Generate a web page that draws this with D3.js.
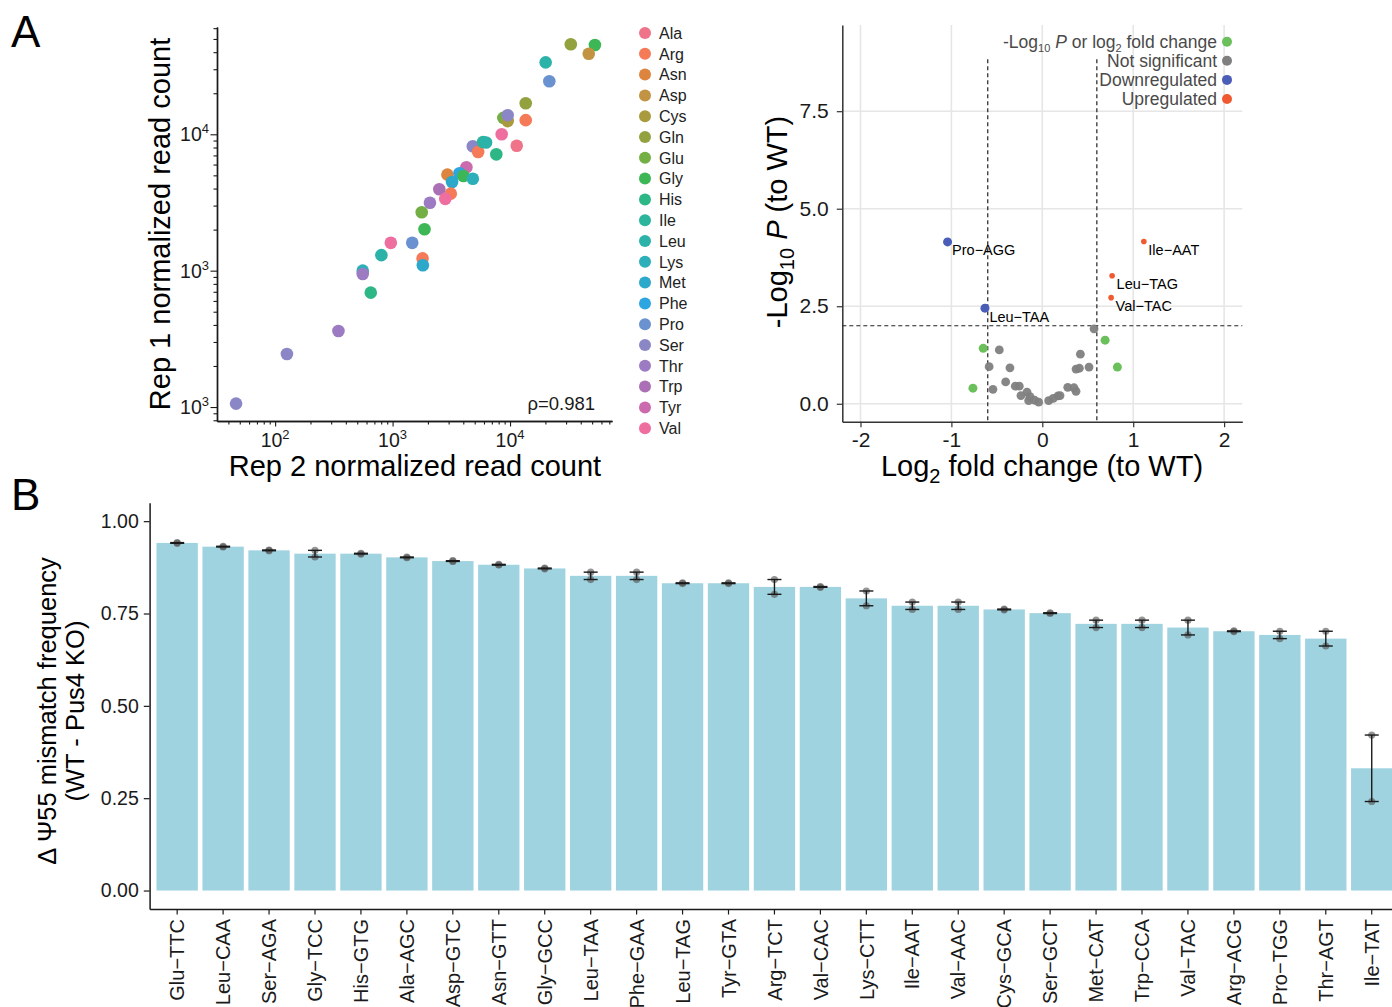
<!DOCTYPE html>
<html>
<head>
<meta charset="utf-8">
<script src="https://cdn.jsdelivr.net/npm/d3@7"></script>
<style>
  body { margin: 0; background: #fff; }
  svg { display: block; font-family: "Liberation Sans", Arial, Helvetica, sans-serif; }
</style>
</head>
<body>
<svg id="fig" width="1392" height="1007"></svg>
<script>
// ---------------- Panel A, left: replicate read counts per tRNA ----------------
const aminoAcids = ["Ala","Arg","Asn","Asp","Cys","Gln","Glu","Gly","His","Ile",
                    "Leu","Lys","Met","Phe","Pro","Ser","Thr","Trp","Tyr","Val"];
const aaColors = ["#EF7489","#F47A58","#DD843E","#C19342","#A99B3D","#93A23F","#73AF45","#3DB755","#2DB786","#2AB59C",
                  "#2BB2A9","#2CAFB8","#2BA8CA","#2CA5E0","#6A91D0","#8B86C5","#9C7BC2","#AA6FB4","#CB6BAE","#EE6EA0"];

// one entry per tRNA isodecoder
const pointAA   = ["Gln","Gly","Asp","Leu","Pro","Gln","Glu","Cys","Ser","Arg",
                   "Val","Ala","Ser","Arg","Ile","Leu","His","Tyr","Asn","Phe",
                   "Gly","Lys","Met","Arg","Trp","Val","Thr","Glu","Gly","Val",
                   "Pro","Leu","Arg","Met","Lys","Thr","His","Thr","Ser","Ser"];
const rep2Count = [32900,52800,46800,20100,21600,13600,8770,9550,9550,13600,
                   8490,11400,4820,5350,5900,6250,7640,4250,2930,3710,
                   4010,4820,3210,3130,2500,2810,2080,1770,1870,966,
                   1470,803,1800,1810,557,557,652,346,126,46.5];
const rep1Count = [45700,45200,39000,33700,24500,16900,13200,12500,13800,12700,
                   10000,8240,8170,7410,8790,8700,7130,5730,5060,5180,
                   4940,4720,4470,3670,3950,3360,3150,2680,2010,1600,
                   1600,1300,1230,1095,1000,946,690,361,245,106];
const scatterXTicks = [100, 1000, 10000];
const scatterXTickExp = ["2", "3", "4"];
const scatterYTicks = [100, 1000, 10000];
const scatterYTickExp = ["3", "3", "4"];
const spearmanText = "ρ=0.981";

// ---------------- Panel A, right: volcano plot ----------------
const volcName = ["Pro−AGG","Leu−TAA","Ile−AAT","Leu−TAG","Val−TAC",
                  "","","","",
                  "","","","","","","","","","","","","","","","","","","","","","","","","",""];
const volcFC = [-1.042,-0.631,1.117,0.768,0.757,
                -0.650,-0.763,0.691,0.826,
                0.569,-0.473,-0.585,-0.356,0.419,0.371,0.408,0.514,-0.403,-0.543,
                -0.297,-0.253,-0.168,-0.235,-0.135,-0.150,-0.084,-0.040,0.070,0.121,
                0.173,0.195,0.280,0.349,0.371];
const volcP  = [4.15,2.45,4.16,3.28,2.72,
                1.42,0.40,1.63,0.94,
                1.92,1.38,0.95,0.92,1.27,0.89,0.91,0.94,0.56,0.37,
                0.45,0.45,0.30,0.21,0.18,0.08,0.09,0.04,0.08,0.14,
                0.20,0.21,0.42,0.41,0.32];
const fcCutoff = 0.6;
const pCutoff = 2;
const volcColors = {"P or FC":"#6CC05C","NS":"#7F7F7F","Down":"#4A5EB8","Up":"#EF5A30"};
const volcRadius = {"P or FC":4.5,"NS":4.4,"Down":4.5,"Up":2.8};

// ---------------- Panel B: Ψ55 mismatch difference ----------------
const trnaLabels = ["Glu−TTC","Leu−CAA","Ser−AGA","Gly−TCC","His−GTG","Ala−AGC","Asp−GTC","Asn−GTT","Gly−GCC",
                    "Leu−TAA","Phe−GAA","Leu−TAG","Tyr−GTA","Arg−TCT","Val−CAC","Lys−CTT","Ile−AAT","Val−AAC",
                    "Cys−GCA","Ser−GCT","Met−CAT","Trp−CCA","Val−TAC","Arg−ACG","Pro−TGG","Thr−AGT","Ile−TAT"];
const deltaRep1 = [0.942,0.932,0.922,0.921,0.913,0.903,0.893,0.883,0.873,
                   0.862,0.862,0.833,0.833,0.842,0.823,0.811,0.781,0.781,
                   0.762,0.752,0.732,0.732,0.732,0.703,0.702,0.702,0.421];
const deltaRep2 = [0.940,0.930,0.920,0.903,0.911,0.901,0.891,0.881,0.871,
                   0.842,0.842,0.831,0.831,0.802,0.821,0.771,0.761,0.761,
                   0.760,0.750,0.712,0.712,0.692,0.701,0.682,0.662,0.241];
const barYTicks = [0, 0.25, 0.5, 0.75, 1.0];

// ======================================================================
const svg = d3.select("#fig");
svg.append("rect").attr("width", 1392).attr("height", 1007).attr("fill", "#fff");
const ink = "#1a1a1a";

svg.append("text").attr("x", 11).attr("y", 47).attr("font-size", 44).attr("fill", "#000").text("A");
svg.append("text").attr("x", 11).attr("y", 510).attr("font-size", 44).attr("fill", "#000").text("B");

// ---------- scatter ----------
(function drawScatter() {
  const g = svg.append("g");
  const x = d3.scaleLog().domain([32, 73800]).range([217, 612]);
  const y = d3.scaleLog().domain([79, 61200]).range([421, 27]);

  const minorX = x.ticks().filter(v => !scatterXTicks.includes(v));
  const minorY = y.ticks().filter(v => !scatterYTicks.includes(v));

  const styleAxis = sel => {
    sel.selectAll("path.domain").attr("stroke", ink).attr("stroke-width", 1.4);
    sel.selectAll(".tick line").attr("stroke", ink).attr("stroke-width", 1.1);
  };

  g.append("g").attr("transform", "translate(0,421)")
    .call(d3.axisBottom(x).tickValues(minorX).tickSize(3.5).tickSizeOuter(0).tickFormat(""))
    .call(styleAxis);
  g.append("g").attr("transform", "translate(0,421)")
    .call(d3.axisBottom(x).tickValues(scatterXTicks).tickSize(5.5).tickSizeOuter(0).tickFormat(""))
    .call(styleAxis);
  g.append("g").attr("transform", "translate(217,0)")
    .call(d3.axisLeft(y).tickValues(minorY).tickSize(3.5).tickSizeOuter(0).tickFormat(""))
    .call(styleAxis);
  g.append("g").attr("transform", "translate(217,0)")
    .call(d3.axisLeft(y).tickValues(scatterYTicks).tickSize(6.5).tickSizeOuter(0).tickFormat(""))
    .call(styleAxis);

  // power-of-ten labels
  scatterXTicks.forEach((v, i) => {
    const t = g.append("text").attr("x", x(v)).attr("y", 447).attr("text-anchor", "middle")
      .attr("font-size", 19.5).attr("fill", ink);
    t.append("tspan").text("10");
    t.append("tspan").attr("dy", -8).attr("font-size", 13).text(scatterXTickExp[i]);
  });
  scatterYTicks.forEach((v, i) => {
    const t = g.append("text").attr("x", 209).attr("y", y(v) + 7).attr("text-anchor", "end")
      .attr("font-size", 19.5).attr("fill", ink);
    t.append("tspan").text("10");
    t.append("tspan").attr("dy", -8).attr("font-size", 13).text(scatterYTickExp[i]);
  });

  g.selectAll("circle.pt").data(pointAA).join("circle")
    .attr("class", "pt")
    .attr("cx", (d, i) => x(rep2Count[i]))
    .attr("cy", (d, i) => y(rep1Count[i]))
    .attr("r", 6.3)
    .attr("fill", d => aaColors[aminoAcids.indexOf(d)]);

  g.append("text").attr("x", 595).attr("y", 410).attr("text-anchor", "end")
    .attr("font-size", 18.5).attr("fill", ink).text(spearmanText);

  g.append("text").attr("x", 415).attr("y", 476).attr("text-anchor", "middle")
    .attr("font-size", 29).attr("fill", "#000").text("Rep 2 normalized read count");
  g.append("text").attr("transform", "translate(170,224) rotate(-90)").attr("text-anchor", "middle")
    .attr("font-size", 29).attr("fill", "#000").text("Rep 1 normalized read count");

  // amino acid legend
  const lg = g.append("g");
  aminoAcids.forEach((aa, i) => {
    const cy = 33 + i * 20.8;
    lg.append("circle").attr("cx", 645).attr("cy", cy).attr("r", 6).attr("fill", aaColors[i]);
    lg.append("text").attr("x", 659).attr("y", cy).attr("dy", "0.36em")
      .attr("font-size", 16).attr("fill", "#222").text(aa);
  });
})();

// ---------- volcano ----------
(function drawVolcano() {
  const g = svg.append("g");
  const x = d3.scaleLinear().domain([-2.2, 2.2]).range([842.3, 1242.3]);
  const y = d3.scaleLinear().domain([-0.46, 9.71]).range([421.7, 25]);
  const xTicks = [-2, -1, 0, 1, 2];
  const yTicks = [0, 2.5, 5, 7.5];

  // grid
  g.selectAll("line.gx").data(xTicks).join("line").attr("class", "gx")
    .attr("x1", d => x(d)).attr("x2", d => x(d)).attr("y1", 25).attr("y2", 421.7)
    .attr("stroke", "#E6E6E6").attr("stroke-width", 1.6);
  g.selectAll("line.gy").data(yTicks).join("line").attr("class", "gy")
    .attr("x1", 842.3).attr("x2", 1242.3).attr("y1", d => y(d)).attr("y2", d => y(d))
    .attr("stroke", "#E6E6E6").attr("stroke-width", 1.6);

  const styleAxis = sel => {
    sel.selectAll("path.domain").attr("stroke", "#333").attr("stroke-width", 1.5);
    sel.selectAll(".tick line").attr("stroke", "#333").attr("stroke-width", 1.2);
    sel.selectAll(".tick text").attr("font-size", 21).attr("fill", ink)
      .attr("font-family", "Liberation Sans, Arial, sans-serif");
  };
  g.append("g").attr("transform", "translate(0,421.7)")
    .call(d3.axisBottom(x).tickValues(xTicks).tickFormat(d => String(d)).tickSize(5.5).tickPadding(5).tickSizeOuter(0))
    .call(styleAxis);
  g.append("g").attr("transform", "translate(842.3,0)")
    .call(d3.axisLeft(y).tickValues(yTicks).tickFormat(d3.format(".1f")).tickSize(5.5).tickPadding(8).tickSizeOuter(0))
    .call(styleAxis);

  // cut-off lines
  const dash = "4,3";
  [-fcCutoff, fcCutoff].forEach(v => {
    g.append("line").attr("x1", x(v)).attr("x2", x(v)).attr("y1", y(8.83)).attr("y2", 421.7)
      .attr("stroke", "#222").attr("stroke-width", 1.2).attr("stroke-dasharray", dash);
  });
  g.append("line").attr("x1", 842.3).attr("x2", 1242.3).attr("y1", y(pCutoff)).attr("y2", y(pCutoff))
    .attr("stroke", "#222").attr("stroke-width", 1.2).attr("stroke-dasharray", dash);

  const groupOf = i => {
    const bigFC = Math.abs(volcFC[i]) > fcCutoff, sigP = volcP[i] > pCutoff;
    if (bigFC && sigP) return volcFC[i] > 0 ? "Up" : "Down";
    if (bigFC || sigP) return "P or FC";
    return "NS";
  };

  g.selectAll("circle.v").data(volcFC).join("circle").attr("class", "v")
    .attr("cx", d => x(d))
    .attr("cy", (d, i) => y(volcP[i]))
    .attr("r", (d, i) => volcRadius[groupOf(i)])
    .attr("fill", (d, i) => volcColors[groupOf(i)])
    .attr("fill-opacity", (d, i) => groupOf(i) === "NS" ? 0.95 : 1);

  volcName.forEach((n, i) => {
    if (!n) return;
    g.append("text").attr("x", x(volcFC[i]) + 4.5).attr("y", y(volcP[i]) + 13.5)
      .attr("font-size", 14.5).attr("fill", "#000").text(n);
  });

  // legend
  const legendRows = [
    {key: "P or FC", parts: [["-Log"], ["10", "sub"], [" "], ["P", "it"], [" or log"], ["2", "sub"], [" fold change"]]},
    {key: "NS", parts: [["Not significant"]]},
    {key: "Down", parts: [["Downregulated"]]},
    {key: "Up", parts: [["Upregulated"]]}
  ];
  legendRows.forEach((row, i) => {
    const cy = 41.7 + i * 19.1;
    g.append("circle").attr("cx", 1227).attr("cy", cy).attr("r", 5).attr("fill", volcColors[row.key]);
    const t = g.append("text").attr("x", 1217).attr("y", cy + 6).attr("text-anchor", "end")
      .attr("font-size", 17.5).attr("fill", "#4a4a4a");
    let shifted = false;
    row.parts.forEach(([s, kind]) => {
      const sp = t.append("tspan").text(s);
      if (kind === "sub") { sp.attr("font-size", 11).attr("dy", 4); shifted = true; }
      else if (shifted) { sp.attr("dy", -4); shifted = false; }
      if (kind === "it") sp.attr("font-style", "italic");
    });
  });

  // axis titles
  const xt = g.append("text").attr("x", 1042).attr("y", 476).attr("text-anchor", "middle")
    .attr("font-size", 29).attr("fill", "#000");
  xt.append("tspan").text("Log");
  xt.append("tspan").attr("font-size", 20).attr("dy", 7).text("2");
  xt.append("tspan").attr("dy", -7).text(" fold change (to WT)");

  const yt = g.append("text").attr("transform", "translate(787,222) rotate(-90)").attr("text-anchor", "middle")
    .attr("font-size", 29).attr("fill", "#000");
  yt.append("tspan").text("-Log");
  yt.append("tspan").attr("font-size", 20).attr("dy", 7).text("10");
  yt.append("tspan").attr("dy", -7).text(" ");
  yt.append("tspan").attr("font-style", "italic").text("P");
  yt.append("tspan").text(" (to WT)");
})();

// ---------- bar chart ----------
(function drawBars() {
  const g = svg.append("g");
  const x = d3.scaleBand().domain(trnaLabels).range([149.6, 1399.3]).paddingInner(0.1).paddingOuter(0.15);
  const y = d3.scaleLinear().domain([-0.05, 1.05]).range([909, 502.7]);

  const means = trnaLabels.map((d, i) => (deltaRep1[i] + deltaRep2[i]) / 2);
  const halfSpan = trnaLabels.map((d, i) => Math.abs(deltaRep1[i] - deltaRep2[i]) / 2);

  g.selectAll("rect.bar").data(trnaLabels).join("rect").attr("class", "bar")
    .attr("x", d => x(d)).attr("width", x.bandwidth())
    .attr("y", (d, i) => y(means[i])).attr("height", (d, i) => y(0) - y(means[i]))
    .attr("fill", "#A0D3E0");

  // replicate points
  trnaLabels.forEach((d, i) => {
    const cx = x(d) + x.bandwidth() / 2;
    [deltaRep1[i], deltaRep2[i]].forEach(v => {
      g.append("circle").attr("cx", cx).attr("cy", y(v)).attr("r", 3.6)
        .attr("fill", "#555").attr("fill-opacity", 0.62);
    });
  });

  // error bars
  trnaLabels.forEach((d, i) => {
    const cx = x(d) + x.bandwidth() / 2;
    const lo = y(means[i] - halfSpan[i]), hi = y(means[i] + halfSpan[i]);
    const w = 7;
    g.append("line").attr("x1", cx).attr("x2", cx).attr("y1", lo).attr("y2", hi)
      .attr("stroke", ink).attr("stroke-width", 1.4);
    [lo, hi].forEach(yy => g.append("line").attr("x1", cx - w).attr("x2", cx + w)
      .attr("y1", yy).attr("y2", yy).attr("stroke", ink).attr("stroke-width", 1.4));
  });

  const yAxis = g.append("g").attr("transform", "translate(149.6,0)")
    .call(d3.axisLeft(y).tickValues(barYTicks).tickFormat(d3.format(".2f")).tickSize(5.8).tickPadding(5).tickSizeOuter(0));
  yAxis.selectAll(".tick text").attr("font-size", 19.5).attr("fill", ink)
    .attr("font-family", "Liberation Sans, Arial, sans-serif");

  const xAxis = g.append("g").attr("transform", "translate(0,909)")
    .call(d3.axisBottom(x).tickSize(5.5).tickSizeOuter(0));
  xAxis.selectAll(".tick text").attr("font-size", 20).attr("fill", ink)
    .attr("font-family", "Liberation Sans, Arial, sans-serif")
    .attr("transform", "rotate(-90)").attr("x", -10).attr("y", 0).attr("dy", "0.36em")
    .attr("text-anchor", "end");

  [yAxis, xAxis].forEach(a => {
    a.selectAll("path.domain").attr("stroke", ink).attr("stroke-width", 1.5);
    a.selectAll(".tick line").attr("stroke", ink).attr("stroke-width", 1.2);
  });

  const yt = g.append("text").attr("transform", "translate(55.5,711) rotate(-90)").attr("text-anchor", "middle")
    .attr("font-size", 25.5).attr("fill", "#000");
  yt.append("tspan").attr("x", 0).text("Δ Ψ55 mismatch frequency");
  yt.append("tspan").attr("x", 0).attr("dy", 28).text("(WT - Pus4 KO)");
})();
</script>
</body>
</html>
